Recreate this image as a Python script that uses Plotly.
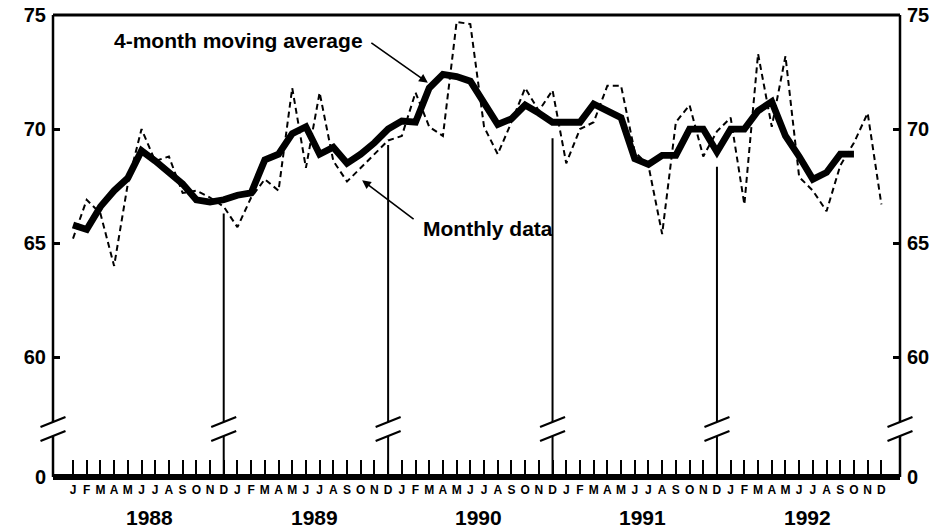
import plotly.graph_objects as go

# ---------------- data ----------------
months = ["J", "F", "M", "A", "M", "J", "J", "A", "S", "O", "N", "D"]
years = [1988, 1989, 1990, 1991, 1992]

monthly = [
    65.2, 66.9, 66.3, 64.0, 67.6, 70.0, 68.6, 68.8, 67.2, 67.3, 67.0, 66.6,   # 1988
    65.7, 67.0, 67.8, 67.3, 71.8, 68.3, 71.6, 68.6, 67.7, 68.3, 68.9, 69.5,   # 1989
    69.7, 71.6, 70.1, 69.7, 74.7, 74.6, 70.1, 68.9, 70.3, 71.8, 70.8, 71.7,   # 1990
    68.5, 70.0, 70.3, 71.9, 71.9, 69.0, 68.4, 65.4, 70.3, 71.05, 68.8, 69.9,  # 1991
    70.5, 66.7, 73.3, 70.1, 73.2, 67.9, 67.3, 66.4, 68.4, 69.4, 70.7, 66.7,   # 1992
]

moving_avg = [
    65.8, 65.6, 66.6, 67.3, 67.85, 69.05, 68.6, 68.05, 67.6, 66.9, 66.8, 66.9,
    67.1, 67.2, 68.65, 68.9, 69.8, 70.1, 68.9, 69.2, 68.5, 68.9, 69.4, 70.0,
    70.35, 70.3, 71.8, 72.4, 72.3, 72.1, 71.1, 70.2, 70.45, 71.05, 70.7, 70.3,
    70.3, 70.3, 71.1, 70.8, 70.5, 68.7, 68.45, 68.85, 68.85, 70.0, 70.0, 69.0,
    70.0, 70.0, 70.8, 71.2, 69.7, 68.8, 67.8, 68.1, 68.9, 68.9,
]

# heights reached by the December year-separator lines
separator_tops = [66.3, 69.3, 69.6, 68.35]

y_tick_values = [0, 60, 65, 70, 75]

# ---------------- layout constants ----------------
W, H = 946, 530
ML, MR, MT, MB = 53, 46, 15, 53
ZERO_POS = 54.75      # axis position where the (broken) 0 baseline is drawn
BREAK_POS = 56.85     # axis position of the // break marks
X_RANGE = [-1.46, 60.36]
Y_RANGE = [ZERO_POS, 75]

FONT = "Liberation Sans"
BLACK = "#000000"

PW, PH = W - ML - MR, H - MT - MB


def px_(xv):
    return (xv - X_RANGE[0]) / (X_RANGE[1] - X_RANGE[0])


def py_(yv):
    return (yv - Y_RANGE[0]) / (Y_RANGE[1] - Y_RANGE[0])


n = len(monthly)
x_all = list(range(n))
x_ma = list(range(len(moving_avg)))
tick_text = months * len(years)
y_tickvals = [ZERO_POS if v == 0 else v for v in y_tick_values]
y_ticktext = [str(v) for v in y_tick_values]

fig = go.Figure()
fig.add_trace(go.Scatter(
    x=x_all, y=monthly, mode="lines",
    line=dict(color=BLACK, width=2, dash="6px,4px"),
    hoverinfo="skip", name="Monthly data"))
fig.add_trace(go.Scatter(
    x=x_ma, y=moving_avg, mode="lines",
    line=dict(color=BLACK, width=6.8),
    hoverinfo="skip", name="4-month moving average"))
# invisible trace to activate the right axis
fig.add_trace(go.Scatter(x=[x_all[0]], y=[monthly[0]], yaxis="y2", mode="markers",
                         marker=dict(opacity=0), hoverinfo="skip", showlegend=False))

shapes = []
gap = 7 / PH            # half gap of the break (paper units)
sdx = 12.5 / PW         # half width of a slash
sdy = 5 / PH            # half rise of a slash
brk = py_(BREAK_POS)


def seg(x0, y0, x1, y1, width):
    shapes.append(dict(type="line", xref="paper", yref="paper", x0=x0, x1=x1, y0=y0, y1=y1,
                       line=dict(color=BLACK, width=width), layer="above"))


def break_mark(xp):
    for c in (brk - gap, brk + gap):
        seg(xp - sdx, c - sdy, xp + sdx, c + sdy, 2.2)


# outer frame: left / right axes (broken), top line
for xp in (0, 1):
    seg(xp, 0, xp, brk - gap, 2.5)
    seg(xp, brk + gap, xp, 1, 2.5)
    break_mark(xp)
seg(0, 1, 1, 1, 3)

# December separators between years
for k, top in enumerate(separator_tops):
    xp = px_(12 * k + 11)
    seg(xp, 0, xp, brk - gap, 2)
    seg(xp, brk + gap, xp, py_(top), 2)
    break_mark(xp)

# thick baseline
seg(0, 0, 1, 0, 6)

annotations = []
# year labels (centre ~40 px below the baseline)
for k, yr in enumerate(years):
    annotations.append(dict(x=px_(12 * k + 5.6), y=-40 / PH, xref="paper", yref="paper",
                            text=str(yr), showarrow=False, xanchor="center", yanchor="middle",
                            font=dict(family=FONT, size=21, color=BLACK, weight="bold")))

# callouts
annotations.append(dict(x=(238 - ML) / PW, y=1 - (40 - MT) / PH,
                        xref="paper", yref="paper", text="4-month moving average",
                        showarrow=False, xanchor="center", yanchor="middle",
                        font=dict(family=FONT, size=21, color=BLACK, weight="bold")))
annotations.append(dict(x=25.9, y=72.03, xref="x", yref="y", text="", showarrow=True,
                        ax=-58, ay=-41, arrowhead=2, arrowsize=1.1, arrowwidth=1.6,
                        arrowcolor=BLACK))
annotations.append(dict(x=(488 - ML) / PW, y=1 - (228 - MT) / PH,
                        xref="paper", yref="paper", text="Monthly data",
                        showarrow=False, xanchor="center", yanchor="middle",
                        font=dict(family=FONT, size=21, color=BLACK, weight="bold")))
annotations.append(dict(x=21.1, y=67.76, xref="x", yref="y", text="", showarrow=True,
                        ax=53, ay=40, arrowhead=2, arrowsize=1.1, arrowwidth=1.6,
                        arrowcolor=BLACK))

yaxis_common = dict(range=Y_RANGE, tickvals=y_tickvals, ticktext=y_ticktext,
                    ticks="inside", ticklen=7, tickwidth=2.5, tickcolor=BLACK,
                    showgrid=False, zeroline=False, showline=False, automargin=False,
                    ticklabelstandoff=6, ticklabeloverflow="allow",
                    tickfont=dict(family=FONT, size=20, color=BLACK, weight="bold"))

fig.update_layout(
    width=W, height=H,
    margin=dict(l=ML, r=MR, t=MT, b=MB, pad=0, autoexpand=False),
    paper_bgcolor="white", plot_bgcolor="white",
    showlegend=False,
    xaxis=dict(range=X_RANGE, tickvals=x_all, ticktext=tick_text,
               ticks="inside", ticklen=17, tickwidth=2.2, tickcolor=BLACK,
               showgrid=False, zeroline=False, showline=False, automargin=False,
               ticklabelstandoff=4, ticklabeloverflow="allow",
               tickfont=dict(family=FONT, size=12, color=BLACK, weight="bold")),
    yaxis=dict(side="left", **yaxis_common),
    yaxis2=dict(side="right", overlaying="y", **yaxis_common),
    shapes=shapes,
    annotations=annotations,
)

# remove the page's default body margin so the figure sits at the window's top-left corner
fig.write_html("out.html", config={"displayModeBar": False},
               post_script="document.body.style.margin='0px';")
